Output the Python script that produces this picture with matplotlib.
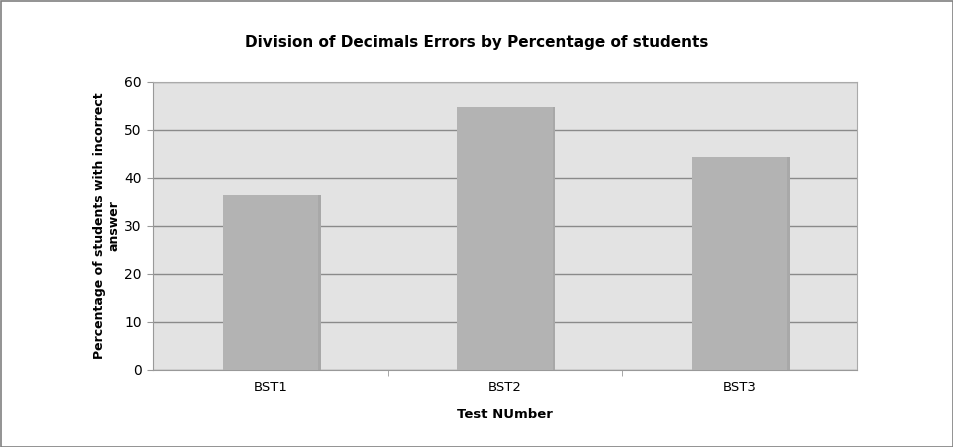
import matplotlib.pyplot as plt
import numpy as np

tests = ['BST1', 'BST2', 'BST3']
pct_incorrect = [36.4, 54.7, 44.3]
y_ticks = [0, 10, 20, 30, 40, 50, 60]

fig = plt.figure(figsize=(9.54, 4.47), dpi=100)
fig.patch.set_facecolor('white')
fig.patches.append(plt.Rectangle((0.001, 0.001), 0.998, 0.997, transform=fig.transFigure,
                                 fill=False, edgecolor='#808080', linewidth=1.2))

ax = fig.add_axes([0.1604, 0.1723, 0.7379, 0.6443])
ax.set_facecolor('#e3e3e3')

x = np.arange(len(tests))
ax.bar(x + 0.012, pct_incorrect, width=0.405, color='#a8a8a8', zorder=2)
ax.bar(x, pct_incorrect, width=0.405, color='#b3b3b3', zorder=3)

ax.set_xlim(-0.5, 2.5)
ax.set_ylim(0, 60)
ax.set_yticks(y_ticks)
ax.yaxis.grid(True, color='#8a8a8a', linewidth=1.0, zorder=1)
ax.set_axisbelow(True)

ax.set_xticks(x)
ax.set_xticklabels(tests, fontsize=9.5)
ax.set_xticks([0.5, 1.5], minor=True)
ax.tick_params(axis='x', which='major', length=0, pad=8)
ax.tick_params(axis='x', which='minor', length=4, color='#999999', direction='out')
ax.tick_params(axis='y', length=4, color='#999999', labelsize=10, pad=4)

for side in ['top', 'right']:
    ax.spines[side].set_color('#aaaaaa')
ax.spines['left'].set_color('#999999')
ax.spines['bottom'].set_color('#999999')

fig.text(0.5, 1 - 42 / 447, 'Division of Decimals Errors by Percentage of students',
         fontsize=11, fontweight='bold', ha='center', va='center')
ax.set_xlabel('Test NUmber', fontsize=9.5, fontweight='bold', labelpad=10)
ax.set_ylabel('Percentage of students with incorrect\nanswer', fontsize=9,
              fontweight='bold')
ax.yaxis.set_label_coords(-0.046, 0.5)

fig.savefig('out.png', dpi=100)
